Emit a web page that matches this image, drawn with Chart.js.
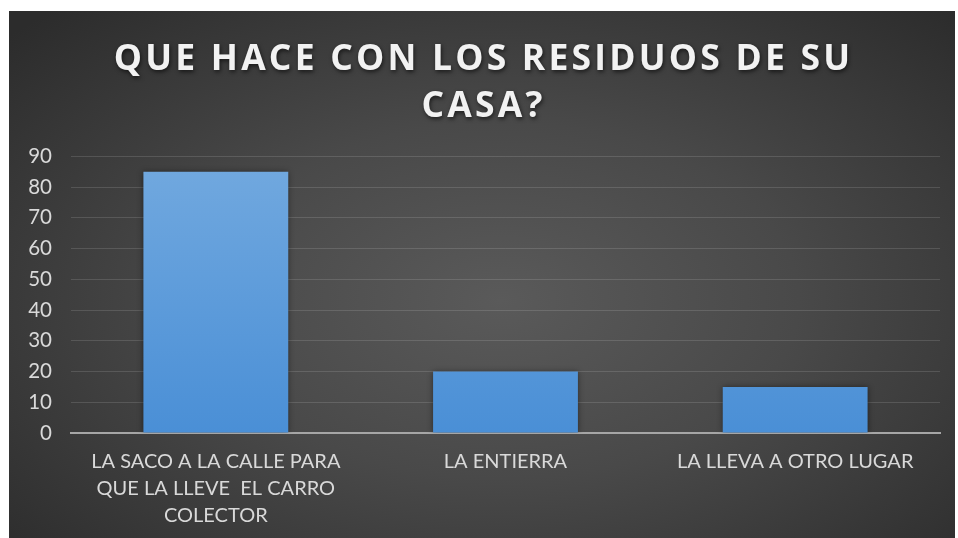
<!DOCTYPE html>
<html><head><meta charset="utf-8">
<script src="https://cdn.jsdelivr.net/npm/chart.js@4.4.1/dist/chart.umd.min.js"></script>
<style>
html,body{margin:0;padding:0;background:#fff;width:958px;height:538px;overflow:hidden}
#wrap{position:absolute;left:9px;top:11px;width:946px;height:527px;
background:radial-gradient(ellipse 70% 75% at 52% 55%, #5a5a5a 0%, #494949 45%, #2c2c2c 100%);}
</style></head>
<body>
<div id="wrap"><canvas id="c" width="946" height="527"></canvas></div>
<script>
const titleLines = ['QUE HACE CON LOS RESIDUOS DE SU', 'CASA?'];
const categories = [
  ['LA SACO A LA CALLE PARA', 'QUE LA LLEVE  EL CARRO', 'COLECTOR'],
  'LA ENTIERRA',
  'LA LLEVA A OTRO LUGAR'
];
const values = [85, 20, 15];
const yTicks = [0, 10, 20, 30, 40, 50, 60, 70, 80, 90];

const titleStyle = {
  id: 'titleStyle',
  afterInit(chart) {
    const tb = chart.titleBlock;
    if (!tb) return;
    const orig = tb.draw.bind(tb);
    tb.draw = function () {
      const ctx = chart.ctx;
      ctx.save();
      ctx.letterSpacing = '3.2px';
      ctx.shadowColor = 'rgba(0,0,0,0.6)';
      ctx.shadowBlur = 4;
      ctx.shadowOffsetX = 1;
      ctx.shadowOffsetY = 2;
      orig();
      ctx.restore();
    };
  }
};
const barShadow = {
  id: 'barShadow',
  beforeDatasetsDraw(chart) {
    const ctx = chart.ctx;
    ctx.save();
    ctx.shadowColor = 'rgba(0,0,0,0.45)';
    ctx.shadowBlur = 6;
  },
  afterDatasetsDraw(chart) { chart.ctx.restore(); }
};

new Chart(document.getElementById('c'), {
  type: 'bar',
  data: {
    labels: categories,
    datasets: [{
      data: values,
      backgroundColor(ctx) {
        const ca = ctx.chart.chartArea;
        if (!ca) return '#5b9bd5';
        const g = ctx.chart.ctx.createLinearGradient(0, ca.top, 0, ca.bottom);
        g.addColorStop(0, '#72a9df');
        g.addColorStop(1, '#4a8fd6');
        return g;
      },
      borderWidth: 0,
      categoryPercentage: 1,
      barPercentage: 0.5
    }]
  },
  options: {
    responsive: false,
    animation: false,
    devicePixelRatio: 1,
    layout: { padding: { left: 18, right: 15, top: 0, bottom: 0 } },
    plugins: {
      legend: { display: false },
      tooltip: { enabled: false },
      title: {
        display: true,
        text: titleLines,
        color: '#f2f2f2',
        font: { family: 'Open Sans', size: 35.5, weight: 'bold', lineHeight: 1.33 },
        padding: { top: 25, bottom: 26 }
      }
    },
    scales: {
      x: {
        grid: { display: false, drawTicks: false },
        border: { display: true, color: '#a6a6a6', width: 2 },
        ticks: {
          color: '#d9d9d9',
          font: { family: 'Lato', size: 20, lineHeight: 1.35 },
          padding: 15,
          maxRotation: 0,
          autoSkip: false
        },
        afterFit(s) { s.height = 105; }
      },
      y: {
        min: 0, max: 90,
        afterBuildTicks(s) { s.ticks = yTicks.map(v => ({ value: v })); },
        grid: { color: 'rgba(255,255,255,0.13)', lineWidth: 1, drawTicks: false },
        border: { display: false },
        ticks: {
          color: '#d9d9d9',
          font: { family: 'Lato', size: 20.5 },
          padding: 19
        },
        afterFit(s) { s.width = 44; }
      }
    }
  },
  plugins: [titleStyle, barShadow]
});
</script>
</body></html>
